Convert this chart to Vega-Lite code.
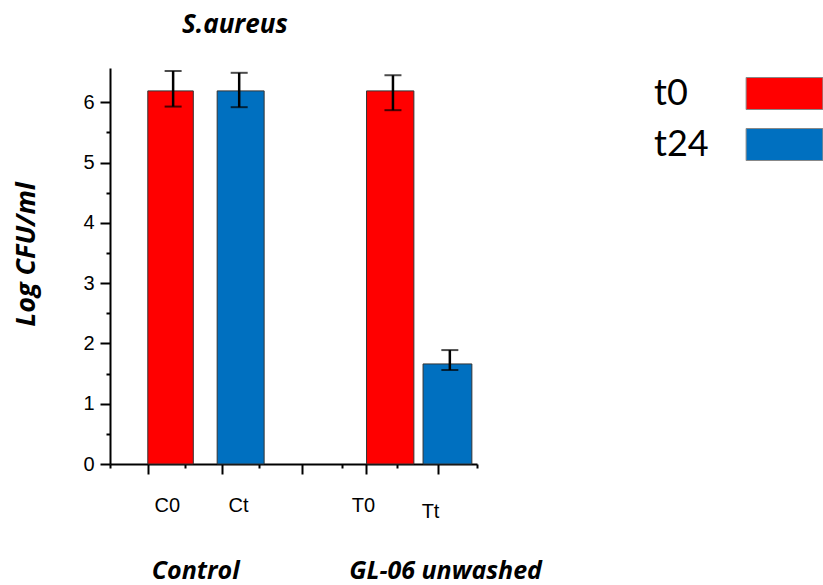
{
  "$schema": "https://vega.github.io/schema/vega-lite/v6.json",
  "width": 367,
  "height": 396,
  "autosize": {"type": "none"},
  "padding": {"left": 110, "top": 68, "right": 346, "bottom": 121},
  "title": {"text": "S.aureus", "anchor": "start", "dx": 72, "offset": 23, "fontSize": 26, "font": "Open Sans", "fontStyle": "italic", "fontWeight": "bold", "color": "black", "frame": "group"},
  "config": {
    "view": {"stroke": null},
    "axis": {"domainColor": "black", "tickColor": "black", "labelColor": "black", "grid": false, "titleColor": "black"}
  },
  "data": {
    "values": [
      {"label": "C0", "group": "Control", "time": "t0", "x0": 1.03, "x1": 2.27, "ex": 1.72, "mean": 6.19, "lo": 5.93, "hi": 6.52},
      {"label": "Ct", "group": "Control", "time": "t24", "x0": 2.92, "x1": 4.2, "ex": 3.52, "mean": 6.19, "lo": 5.92, "hi": 6.49},
      {"label": "T0", "group": "GL-06 unwashed", "time": "t0", "x0": 6.99, "x1": 8.28, "ex": 7.71, "mean": 6.19, "lo": 5.87, "hi": 6.45},
      {"label": "Tt", "group": "GL-06 unwashed", "time": "t24", "x0": 8.53, "x1": 9.86, "ex": 9.26, "mean": 1.66, "lo": 1.56, "hi": 1.89}
    ]
  },
  "layer": [
    {
      "mark": {"type": "rect", "stroke": "#333", "strokeWidth": 1},
      "encoding": {
        "x": {"field": "x0", "type": "quantitative", "scale": {"domain": [0, 10], "nice": false, "zero": false},
          "axis": {"orient": "bottom", "values": [1.03, 3.05, 5.23, 6.98, 8.94], "labels": false, "tickSize": 10, "tickWidth": 2, "domainWidth": 2, "title": null}},
        "x2": {"field": "x1"},
        "y": {"field": "mean", "type": "quantitative", "scale": {"domain": [0, 6.57], "nice": false},
          "axis": {"orient": "left", "values": [0, 1, 2, 3, 4, 5, 6], "tickSize": 10, "tickWidth": 2, "domainWidth": 2, "labelFont": "Liberation Sans", "labelFontSize": 20, "labelPadding": 6, "title": "Log CFU/ml", "titleFont": "Open Sans", "titleFontSize": 27, "titleFontStyle": "italic", "titleFontWeight": "bold", "titlePadding": 42, "titleY": 186}},
        "y2": {"datum": 0},
        "color": {"field": "time", "type": "nominal", "scale": {"domain": ["t0", "t24"], "range": ["#FF0000", "#0070C0"]},
          "legend": {"title": null, "orient": "none", "legendX": 642, "legendY": -7, "symbolType": "M-1.2,-0.5H1.2V0.5H-1.2Z", "symbolSize": 4096, "symbolStrokeColor": "#888", "symbolStrokeWidth": 1, "symbolOpacity": 1, "labelFont": "Lato", "labelFontSize": 36, "labelColor": "black", "labelAlign": "left", "labelOffset": -163, "rowPadding": -5}}
      }
    },
    {
      "mark": {"type": "rule", "color": "black", "strokeWidth": 2.5},
      "encoding": {
        "x": {"field": "ex", "type": "quantitative", "scale": {"domain": [0, 10], "nice": false, "zero": false},
          "axis": {"orient": "bottom", "values": [0, 2.04, 4.06, 6.32, 7.82, 10], "labels": false, "domain": false, "tickSize": 4, "tickWidth": 2, "title": null}},
        "y": {"field": "lo", "type": "quantitative", "scale": {"domain": [0, 6.57], "nice": false},
          "axis": {"orient": "left", "values": [0.5, 1.5, 2.5, 3.5, 4.5, 5.5], "labels": false, "domain": false, "tickSize": 4, "tickWidth": 2, "title": null}},
        "y2": {"field": "hi"}
      }
    },
    {
      "mark": {"type": "tick", "orient": "horizontal", "size": 17, "thickness": 2, "color": "black"},
      "encoding": {
        "x": {"field": "ex", "type": "quantitative", "scale": {"domain": [0, 10], "nice": false, "zero": false},
          "axis": {"orient": "bottom", "values": [1.55, 3.49, 6.89, 8.72], "ticks": false, "tickSize": 0, "domain": false, "title": null,
            "labelExpr": "datum.value < 2 ? 'C0' : datum.value < 4 ? 'Ct' : datum.value < 8 ? 'T0' : 'Tt'",
            "labelFont": "Liberation Sans", "labelFontSize": 20,
            "labelPadding": {"condition": {"test": "datum.value > 8", "value": 37}, "value": 31}}},
        "y": {"field": "hi", "type": "quantitative", "scale": {"domain": [0, 6.57], "nice": false}, "axis": null}
      }
    },
    {
      "mark": {"type": "tick", "orient": "horizontal", "size": 17, "thickness": 2, "color": "black"},
      "encoding": {
        "x": {"field": "ex", "type": "quantitative", "scale": {"domain": [0, 10], "nice": false, "zero": false},
          "axis": {"orient": "bottom", "values": [2.32, 9.13], "ticks": false, "tickSize": 0, "domain": false, "title": null,
            "labelExpr": "datum.value < 5 ? 'Control' : 'GL-06 unwashed'",
            "labelFont": "Open Sans", "labelFontSize": 25, "labelFontStyle": "italic", "labelFontWeight": "bold", "labelPadding": 94, "labelOverlap": false, "labelLimit": 0}},
        "y": {"field": "lo", "type": "quantitative", "scale": {"domain": [0, 6.57], "nice": false}, "axis": null}
      }
    }
  ],
  "resolve": {"axis": {"x": "independent", "y": "independent"}}
}
